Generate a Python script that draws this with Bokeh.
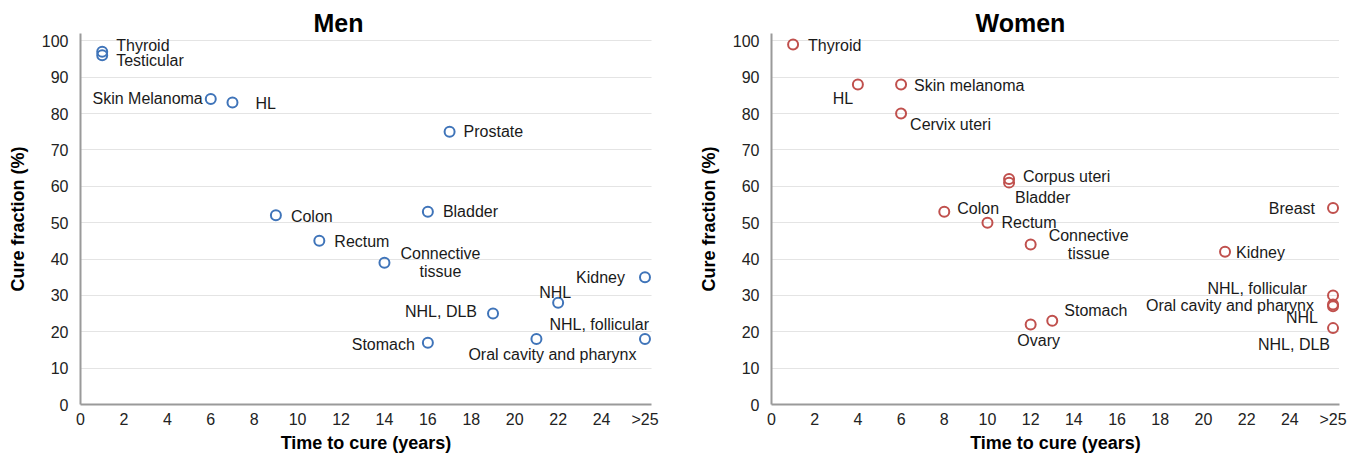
from bokeh.plotting import figure
from bokeh.layouts import row
from bokeh.models import FixedTicker, Range1d, ColumnDataSource
from bokeh.embed import file_html
from bokeh.resources import INLINE
from bokeh.core.properties import value

# ---------------- data ----------------
x_ticks = [0, 2, 4, 6, 8, 10, 12, 14, 16, 18, 20, 22, 24, 26]
x_tick_labels = {26: ">25"}
y_ticks = [0, 10, 20, 30, 40, 50, 60, 70, 80, 90, 100]

men_names = ["Thyroid", "Testicular", "Skin Melanoma", "HL", "Prostate", "Colon",
             "Bladder", "Rectum", "Connective\ntissue", "Kidney", "NHL", "NHL, DLB",
             "NHL, follicular", "Oral cavity and pharynx", "Stomach"]
men_time = [1, 1, 6, 7, 17, 9, 16, 11, 14, 26, 22, 19, 26, 21, 16]
men_cure = [97, 96, 84, 83, 75, 52, 53, 45, 39, 35, 28, 25, 18, 18, 17]

women_names = ["Thyroid", "HL", "Skin melanoma", "Cervix uteri", "Corpus uteri", "Bladder",
               "Colon", "Rectum", "Connective\ntissue", "Kidney", "Breast", "NHL, follicular",
               "Oral cavity and pharynx", "NHL", "NHL, DLB", "Ovary", "Stomach"]
women_time = [1, 4, 6, 6, 11, 11, 8, 10, 12, 21, 26, 26, 26, 26, 26, 12, 13]
women_cure = [99, 88, 88, 80, 62, 61, 53, 50, 44, 42, 54, 30, 27.5, 27, 21, 22, 23]

# ---------------- label placement (style; screen px, dy positive = down) ----------------
men_dx = [14, 14, -8, 23, 14, 15, 15, 15, 56, -20, -3, -16, 4, 16, -13]
men_dy = [-6, 5, 0, 1, 0, 1, 0, 1, 0, 0, -10, -2, -15, 15, 2]
men_al = ["left", "left", "right", "left", "left", "left", "left", "left", "center",
          "right", "center", "right", "right", "center", "right"]

women_dx = [15, -15, 13, 9, 14, 6, 13, 14, 58, 11, -18, -26, -19, -15, -3, 8, 12]
women_dy = [1, 14, 1, 11, -2, 15, -3, 0, 0, 1, 0, -7, 1, 11, 16, 16, -10]
women_al = ["left", "center", "left", "left", "left", "left", "left", "left", "center",
            "left", "right", "right", "right", "right", "right", "center", "left"]

FONT = "Liberation Sans"
H = 455


def make(title, names, xs, ys, color, dx, dy, al, width, border_right, title_offset):
    p = figure(width=width, height=H, title=title,
               x_range=Range1d(0, 26.3), y_range=Range1d(0, 102),
               output_backend="svg", toolbar_location=None,
               min_border_left=80, min_border_right=border_right,
               min_border_top=33, min_border_bottom=0)
    p.title.align = "left"
    p.title.offset = title_offset
    p.title.standoff = -6
    p.title.text_font = FONT
    p.title.text_font_size = "25px"
    p.title.text_font_style = "bold"
    p.title.text_color = "#000000"
    p.outline_line_color = None

    p.xaxis.ticker = FixedTicker(ticks=x_ticks)
    p.xaxis.major_label_overrides = x_tick_labels
    p.yaxis.ticker = FixedTicker(ticks=y_ticks)
    p.xaxis.axis_label = "Time to cure (years)"
    p.yaxis.axis_label = "Cure fraction (%)"
    for ax in (p.xaxis, p.yaxis):
        ax.axis_line_color = "#9a9a9a"
        ax.axis_line_width = 2
        ax.major_tick_line_color = None
        ax.minor_tick_line_color = None
        ax.major_tick_out = 0
        ax.major_tick_in = 0
        ax.minor_tick_out = 0
        ax.minor_tick_in = 0
        ax.major_label_text_font = FONT
        ax.major_label_text_font_size = "16px"
        ax.major_label_text_color = "#222222"
        ax.axis_label_text_font = FONT
        ax.axis_label_text_font_size = "18px"
        ax.axis_label_text_font_style = "bold"
        ax.axis_label_text_color = "#000000"
    p.xaxis.major_label_standoff = 6
    p.yaxis.major_label_standoff = 12
    p.xaxis.axis_label_standoff = 2
    p.yaxis.axis_label_standoff = 11

    p.xgrid.grid_line_color = None
    p.ygrid.grid_line_color = "#c8c8c8"
    p.ygrid.grid_line_dash = "1 1"
    p.ygrid.grid_line_width = 1

    p.scatter(x=xs, y=ys, size=10, marker="circle", fill_color=None,
              line_color=color, line_width=2)

    for a in ("left", "right", "center"):
        idx = [i for i in range(len(names)) if al[i] == a]
        src = ColumnDataSource(dict(
            x=[xs[i] for i in idx], y=[ys[i] for i in idx],
            t=[names[i] for i in idx],
            dx=[dx[i] for i in idx], dy=[dy[i] for i in idx]))
        p.text(x="x", y="y", text="t", x_offset="dx", y_offset="dy", source=src,
               text_align=a, text_baseline="middle",
               text_font=value(FONT), text_font_size="16px",
               text_color="#1a1a1a", text_line_height=1.05)
    return p


p1 = make("Men", men_names, men_time, men_cure, "#3f74b9",
          men_dx, men_dy, men_al, 691, 40, 233)
p2 = make("Women", women_names, women_time, women_cure, "#c0504d",
          women_dx, women_dy, women_al, 656, 8, 204)

layout = row(p1, p2)
open("out.html", "w").write(file_html(layout, INLINE))
